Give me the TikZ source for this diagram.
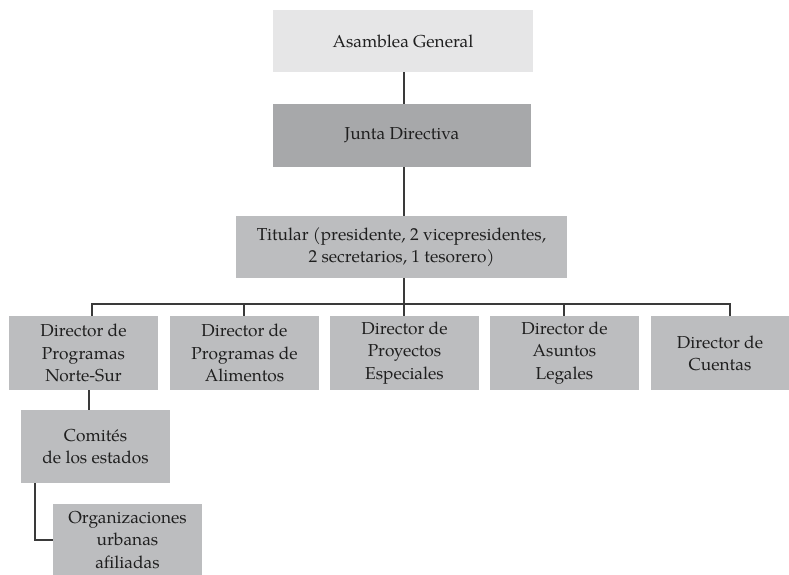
\documentclass[tikz,border=0pt]{standalone}
\usepackage{fontspec}
\setmainfont{TeX Gyre Pagella}
\definecolor{boxlight}{HTML}{E6E6E7}
\definecolor{boxdark}{HTML}{A7A8AA}
\definecolor{boxmid}{HTML}{BCBDBF}
\definecolor{linegray}{HTML}{3A3A3A}
\tikzset{
  orgbox/.style={fill=boxmid, draw=none, inner sep=0pt, align=center,
    font=\fontsize{17.3}{22.2}\selectfont, text=black!88},
  conn/.style={draw=linegray, line width=1.4pt}
}
\begin{document}
\begin{tikzpicture}[x=1pt,y=1pt]
\useasboundingbox (0,0) rectangle (789,-574);
\node[orgbox, fill=boxlight, minimum width=260, minimum height=62] (ag) at (403,-41) {Asamblea General};
\node[orgbox, fill=boxdark, minimum width=258, minimum height=63] (jd) at (402,-135.5) {Junta Directiva};
\node[orgbox, minimum width=331, minimum height=62] (tit) at (401.5,-247) {Titular (presidente, 2 vicepresidentes,\\2 secretarios, 1 tesorero)};
\node[orgbox, minimum width=149, minimum height=74] (b1) at (83.5,-353) {Director de\\Programas\\Norte-Sur};
\node[orgbox, minimum width=149, minimum height=74] (b2) at (244.5,-353) {Director de\\Programas de\\Alimentos};
\node[orgbox, minimum width=149, minimum height=74] (b3) at (404.5,-353) {Director de\\Proyectos\\Especiales};
\node[orgbox, minimum width=149, minimum height=74] (b4) at (564.5,-353) {Director de\\Asuntos\\Legales};
\node[orgbox, minimum width=138, minimum height=74] (b5) at (720,-353) {Director de\\Cuentas};
\node[orgbox, minimum width=149, minimum height=73] (ce) at (95.5,-446.5) {Comités\\de los estados};
\node[orgbox, minimum width=149, minimum height=72] (ou) at (127.5,-540) {Organizaciones\\urbanas\\afiliadas};
% connectors
\coordinate (bus) at (404,-304);
\coordinate (j1) at (92,-304);
\coordinate (j2) at (244,-304);
\coordinate (j3) at (404,-304);
\coordinate (j4) at (564,-304);
\coordinate (j5) at (730,-304);
\coordinate (k1) at (89,0);
\coordinate (k2) at (35,0);
\draw[conn] (ag.south -| bus) -- (jd.north -| bus);
\draw[conn] (jd.south -| bus) -- (tit.north -| bus);
\draw[conn] (tit.south -| bus) -- (bus);
\draw[conn] (j1 |- b1.north) -- (j1) -- (j5) -- (j5 |- b5.north);
\draw[conn] (j2) -- (j2 |- b2.north);
\draw[conn] (j3) -- (j3 |- b3.north);
\draw[conn] (j4) -- (j4 |- b4.north);
\draw[conn] (b1.south -| k1) -- (ce.north -| k1);
\draw[conn] (ce.south -| k2) |- (ou.west);
\end{tikzpicture}
\end{document}
